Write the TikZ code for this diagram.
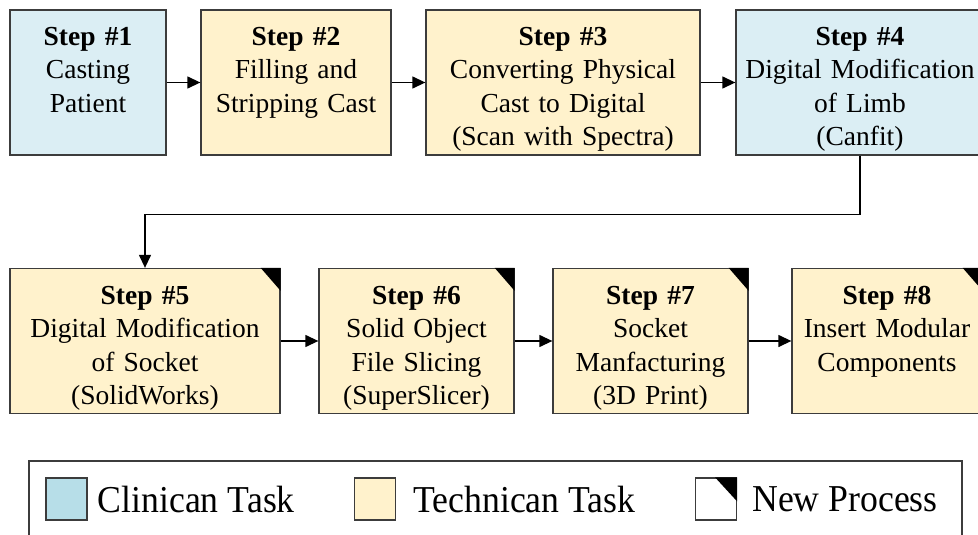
\documentclass[tikz,border=0pt]{standalone}
\usepackage{xcolor}
\usepackage{fontspec}
\setmainfont{Liberation Serif}
\newfontfamily\legfont[FakeStretch=0.94]{Liberation Serif}
\usepackage{tikz}
\usetikzlibrary{arrows.meta,positioning}

\definecolor{clinblue}{RGB}{219,238,244}
\definecolor{techtan}{RGB}{255,242,204}
\definecolor{legblue}{RGB}{183,222,232}
\definecolor{edgegray}{RGB}{60,60,60}

\begin{document}
\begin{tikzpicture}[x=1pt, y=-1pt,
    stepbox/.style={rectangle, draw=edgegray, line width=1.3pt, align=center, inner xsep=3pt, inner ysep=7.5pt, text height=28pt, text depth=102pt, font=\fontsize{27.5}{33.5}\selectfont},
    clin/.style={stepbox, fill=clinblue},
    tech/.style={stepbox, fill=techtan},
    arrow/.style={-{Triangle[length=13pt, width=12pt]}, line width=1.3pt},
    legsq/.style={rectangle, draw=edgegray, line width=1.2pt, minimum width=41pt, minimum height=42pt, inner sep=0pt},
    legtext/.style={anchor=west, inner sep=0pt, font=\legfont\fontsize{38}{42}\selectfont}
]
    \clip (0,0) rectangle (978,535);

    % First row
    \node[clin, text width=150pt] (s1) at (88,82.5) {\textbf{Step \#1}\\Casting\\Patient};
    \node[tech, text width=184pt] (s2) at (296,82.5) {\textbf{Step \#2}\\Filling and\\Stripping Cast};
    \node[tech, text width=268pt] (s3) at (563,82.5) {\textbf{Step \#3}\\Converting Physical\\Cast to Digital\\(Scan with Spectra)};
    \node[clin, text width=242pt] (s4) at (860,82.5) {\textbf{Step \#4}\\Digital Modification\\of Limb\\(Canfit)};

    % Second row
    \node[tech, text width=264pt] (s5) at (145,341) {\textbf{Step \#5}\\Digital Modification\\of Socket\\(SolidWorks)};
    \node[tech, text width=189pt] (s6) at (416.5,341) {\textbf{Step \#6}\\Solid Object\\File Slicing\\(SuperSlicer)};
    \node[tech, text width=189pt] (s7) at (650.5,341) {\textbf{Step \#7}\\Socket\\Manfacturing\\(3D Print)};
    \node[tech, text width=184pt] (s8) at (887,341) {\textbf{Step \#8}\\Insert Modular\\Components};

    % New process corners
    \foreach \n in {s5,s6,s7,s8}
        \fill (\n.north east) -- ++(-20,0) -- ++(20,23) -- cycle;

    % Arrows
    \draw[arrow] (s1) -- (s2);
    \draw[arrow] (s2) -- (s3);
    \draw[arrow] (s3) -- (s4);
    \draw[arrow] (s4.south) -- ++(0,59) -| (s5.north);
    \draw[arrow] (s5) -- (s6);
    \draw[arrow] (s6) -- (s7);
    \draw[arrow] (s7) -- (s8);

    % Legend
    \draw[edgegray, line width=1.3pt] (29,461) rectangle (962,550);
    \node[legsq, fill=legblue] (kclin) at (66.5,499) {};
    \node[legtext, right=10pt of kclin] (tclin) {Clinican Task};
    \node[legsq, fill=techtan] (ktech) at (375,499) {};
    \node[legtext, right=17pt of ktech] (ttech) {Technican Task};
    \node[legsq, fill=white] (knew) at (716,499) {};
    \fill (knew.north east) -- ++(-22,0) -- ++(22,24) -- cycle;
    \node[legtext, right=15pt of knew] (tnew) {New Process};
\end{tikzpicture}
\end{document}
